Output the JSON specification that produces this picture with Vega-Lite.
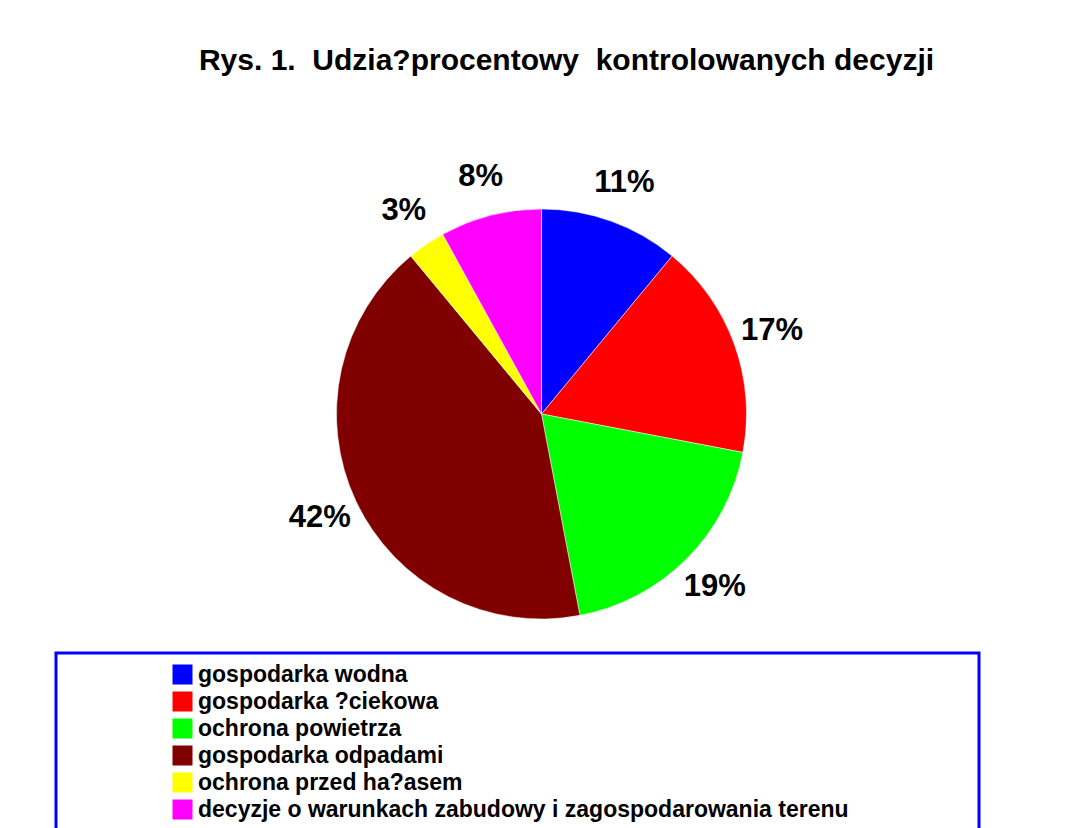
{
  "$schema": "https://vega.github.io/schema/vega-lite/v6.json",
  "width": 1083,
  "height": 828,
  "autosize": {"type": "none"},
  "padding": 0,
  "background": "white",
  "title": {
    "text": "Rys. 1.\u00a0 Udzia?procentowy\u00a0 kontrolowanych decyzji",
    "font": "Liberation Sans",
    "fontSize": 30,
    "fontWeight": "bold",
    "color": "black",
    "anchor": "middle",
    "dx": 25,
    "dy": 80
  },
  "data": {
    "values": [
      {"category": "gospodarka wodna", "value": 11, "order": 1, "label": "11%"},
      {"category": "gospodarka ?ciekowa", "value": 17, "order": 2, "label": "17%"},
      {"category": "ochrona powietrza", "value": 19, "order": 3, "label": "19%"},
      {"category": "gospodarka odpadami", "value": 42, "order": 4, "label": "42%"},
      {"category": "ochrona przed ha?asem", "value": 3, "order": 5, "label": "3%"},
      {"category": "decyzje o warunkach zabudowy i zagospodarowania terenu", "value": 8, "order": 6, "label": "8%"}
    ]
  },
  "encoding": {
    "theta": {"field": "value", "type": "quantitative", "stack": true},
    "order": {"field": "order", "type": "quantitative"}
  },
  "layer": [
    {
      "mark": {"type": "arc", "outerRadius": 205, "stroke": "#ffffff", "strokeWidth": 0.5},
      "encoding": {
        "color": {
          "field": "category",
          "type": "nominal",
          "scale": {
            "domain": ["gospodarka wodna", "gospodarka ?ciekowa", "ochrona powietrza", "gospodarka odpadami", "ochrona przed ha?asem", "decyzje o warunkach zabudowy i zagospodarowania terenu"],
            "range": ["#0000FF", "#FF0000", "#00FF00", "#800000", "#FFFF00", "#FF00FF"]
          },
          "legend": {
            "orient": "none",
            "legendX": 56,
            "legendY": 653,
            "title": "\u00a0",
            "titleOrient": "right",
            "titleFontSize": 22,
            "titlePadding": 120,
            "padding": 10,
            "symbolOffset": 105,
            "strokeColor": "#0000FF",
            "fillColor": "white",
            "symbolType": "square",
            "symbolSize": 400,
            "symbolStrokeWidth": 0,
            "symbolOpacity": 1,
            "labelFont": "Liberation Sans",
            "labelFontSize": 23,
            "labelFontWeight": "bold",
            "labelColor": "black",
            "labelLimit": 900,
            "labelOffset": 4,
            "rowPadding": 3
          }
        }
      }
    },
    {
      "mark": {"type": "text", "radius": 245, "font": "Liberation Sans", "fontSize": 31, "fontWeight": "bold", "color": "black"},
      "encoding": {
        "text": {"field": "label", "type": "nominal"}
      }
    }
  ],
  "config": {"view": {"stroke": null}, "legend": {"strokeWidth": 3}}
}
